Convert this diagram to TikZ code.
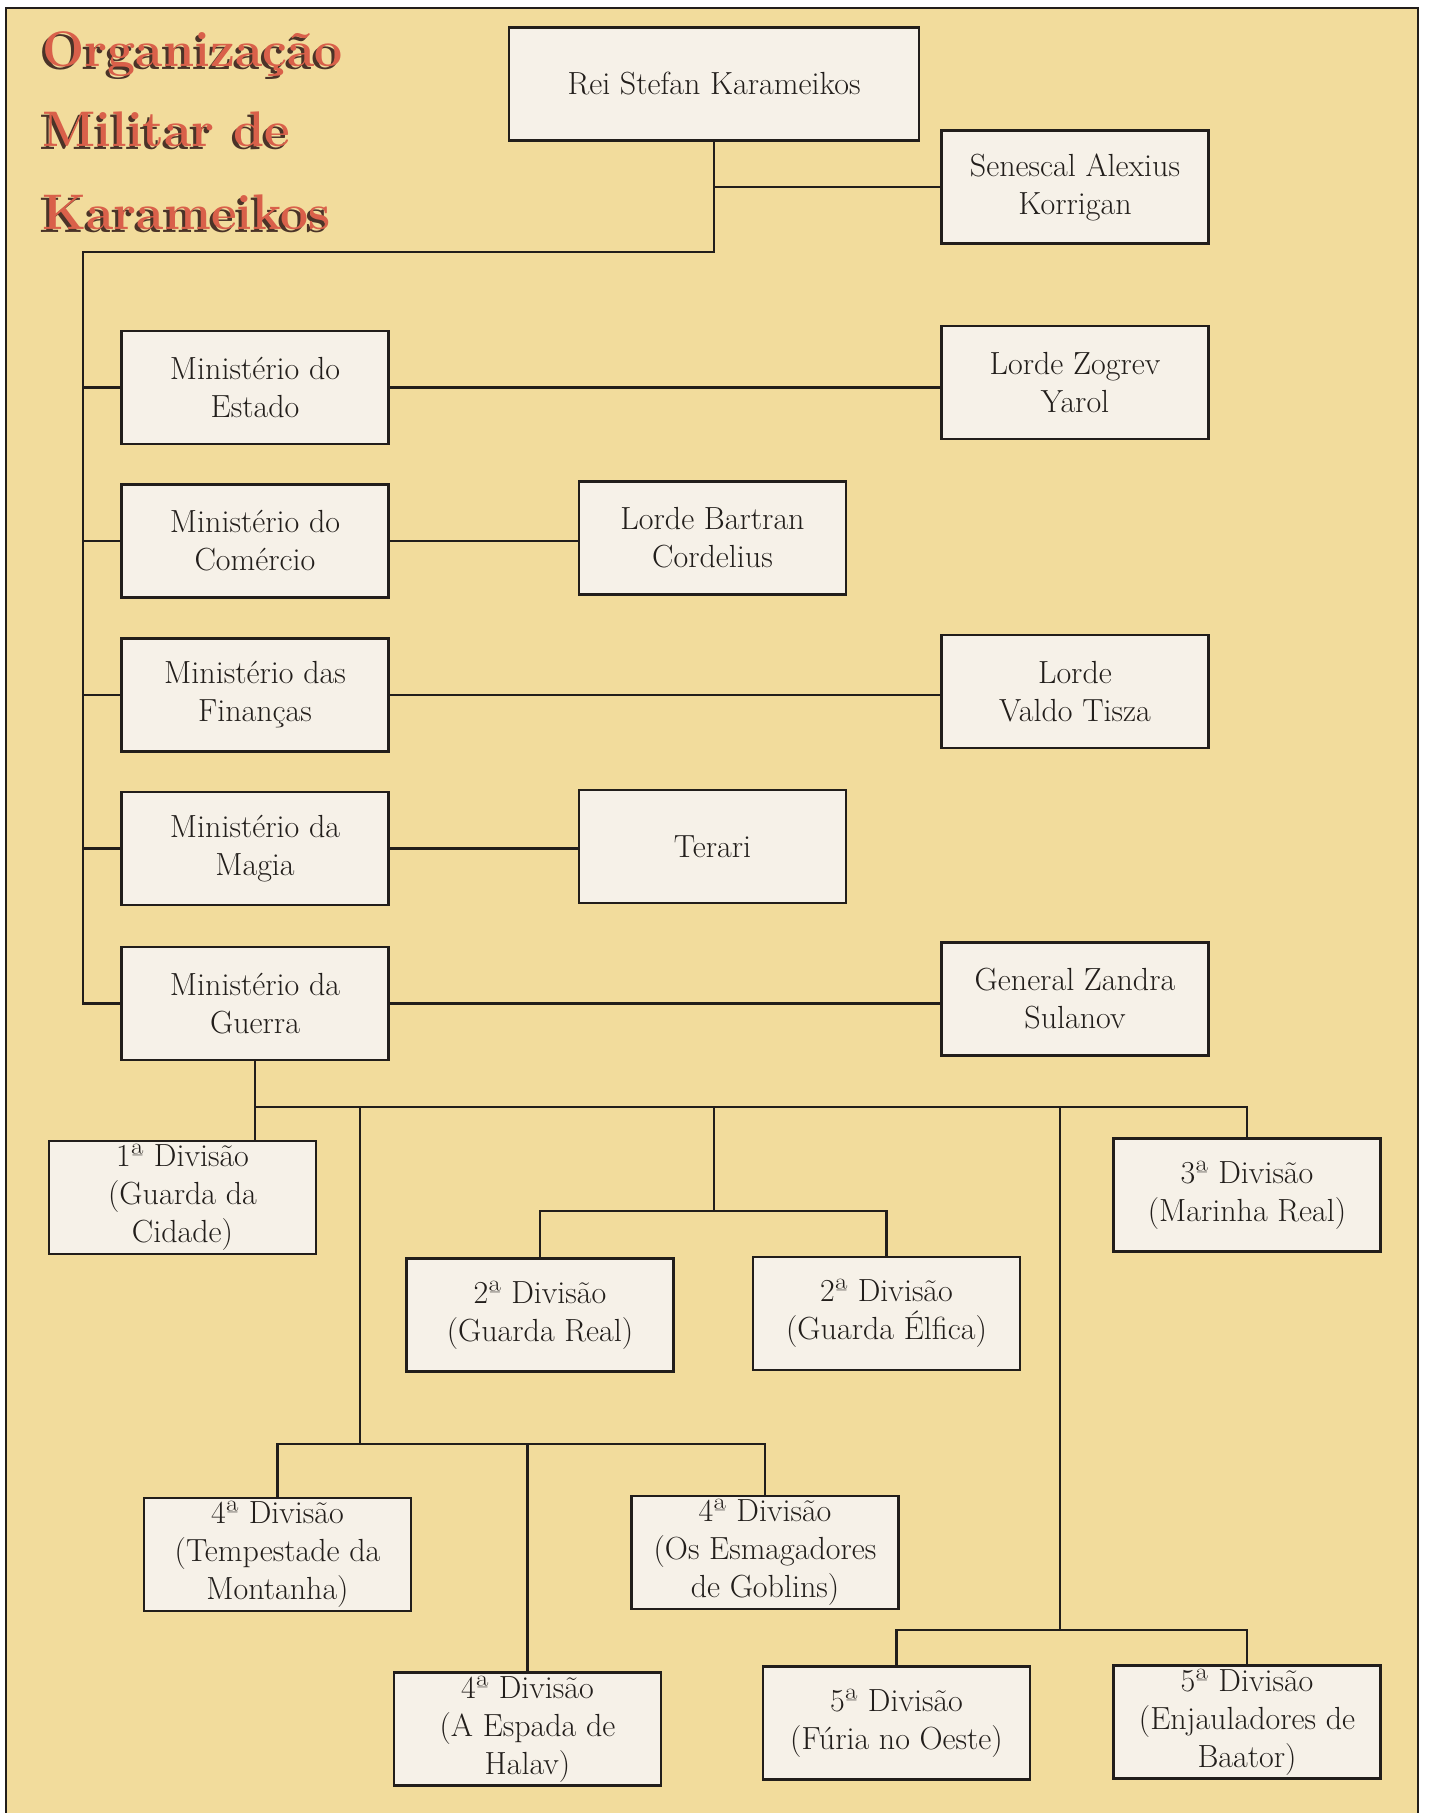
\documentclass[tikz,border=0pt]{standalone}
\usepackage{tikz}
\usetikzlibrary{positioning,calc}

\definecolor{parch}{HTML}{F2DC9C}
\definecolor{boxfill}{HTML}{F6F1E8}
\definecolor{ink}{HTML}{221E1B}
\definecolor{titlered}{HTML}{D9604A}
\definecolor{titleshade}{HTML}{4A3328}

\begin{document}
\begin{tikzpicture}[
	x=0.5pt, y=-0.5pt,
	box/.style={draw=ink, fill=boxfill, line width=1.4pt, minimum width=133.5pt, minimum height=56.5pt,
		align=center, inner sep=0pt, text=ink, font=\fontsize{16}{19}\selectfont},
	link/.style={draw=ink, line width=1.2pt},
	titletext/.style={anchor=base west, inner sep=0pt, font=\fontsize{25}{28}\selectfont\bfseries}]
	\useasboundingbox (0,0) rectangle (1428,1813);
	\fill[parch] (6,8) rectangle (1418,1813);
	\draw[ink, line width=1pt] (6,1813) -- (6,8) -- (1418,8) -- (1418,1813);

	% title with shadow
	\foreach \t/\b [count=\i] in {Organização/67, Militar de/147, Karameikos/230}{
		\node[titletext, text=titleshade] (shade\i) at (39,\b+3) {\t};
		\node[titletext, text=titlered] (title\i) at (42,\b) {\t};
	}

	% king and senescal
	\node[box, minimum width=205pt] (rei) at (714,84) {Rei Stefan Karameikos};
	\node[box] (sen) at (1075,187) {Senescal Alexius\\Korrigan};

	% ministries
	\node[box] (estado) at (255,387.5) {Ministério do\\Estado};
	\node[box] (comercio) at (255,541) {Ministério do\\Comércio};
	\node[box] (financas) at (255,695) {Ministério das\\Finanças};
	\node[box] (magia) at (255,848.5) {Ministério da\\Magia};
	\node[box] (guerra) at (255,1003.5) {Ministério da\\Guerra};

	\node[box] (zogrev) at (1075,382.5) {Lorde Zogrev\\Yarol};
	\node[box] (bartran) at (712.5,538) {Lorde Bartran\\Cordelius};
	\node[box] (valdo) at (1075,691.5) {Lorde\\Valdo Tisza};
	\node[box] (terari) at (712.5,846.5) {Terari};
	\node[box] (zandra) at (1075,999) {General Zandra\\Sulanov};

	% divisions
	\node[box] (div1) at (182.5,1197.5) {1ª Divisão\\(Guarda da\\Cidade)};
	\node[box] (div2a) at (540,1315) {2ª Divisão\\(Guarda Real)};
	\node[box] (div2b) at (886.5,1313.5) {2ª Divisão\\(Guarda Élfica)};
	\node[box] (div3) at (1247,1195) {3ª Divisão\\(Marinha Real)};
	\node[box] (div4a) at (277.5,1554.5) {4ª Divisão\\(Tempestade da\\Montanha)};
	\node[box] (div4b) at (765,1552.5) {4ª Divisão\\(Os Esmagadores\\de Goblins)};
	\node[box] (div4c) at (527.5,1729) {4ª Divisão\\(A Espada de\\Halav)};
	\node[box] (div5a) at (896.5,1723) {5ª Divisão\\(Fúria no Oeste)};
	\node[box] (div5b) at (1247,1722) {5ª Divisão\\(Enjauladores de\\Baator)};

	% junction points
	\coordinate (spine) at (83,252);
	\coordinate (bus) at (255,1107);
	\coordinate (drop1) at (360,1107);
	\coordinate (drop2) at (714,1107);
	\coordinate (drop3) at (1060,1107);
	\coordinate (bus2) at (714,1211);
	\coordinate (bus4) at (360,1444);
	\coordinate (bus5) at (1060,1630);

	% top links
	\draw[link] (rei.south) -- (rei.south |- spine) -- (spine) |- (guerra.west);
	\draw[link] (rei.south |- sen.west) -- (sen.west);
	\foreach \m in {estado, comercio, financas, magia}
		\draw[link] (spine |- \m.west) -- (\m.west);
	\draw[link] (estado.east) -- (estado.east -| zogrev.west);
	\draw[link] (comercio.east) -- (comercio.east -| bartran.west);
	\draw[link] (financas.east) -- (financas.east -| valdo.west);
	\draw[link] (magia.east) -- (magia.east -| terari.west);
	\draw[link] (guerra.east) -- (guerra.east -| zandra.west);

	% war ministry tree
	\draw[link] (guerra.south) -- (guerra.south |- div1.north);
	\draw[link] (bus) -| (div3.north);
	\draw[link] (drop2) -- (bus2);
	\draw[link] (div2a.north) |- (bus2) -| (div2b.north);
	\draw[link] (drop1) -- (bus4);
	\draw[link] (div4a.north) |- (bus4) -| (div4b.north);
	\draw[link] (div4c.north) -- (div4c.north |- bus4);
	\draw[link] (drop3) -- (bus5);
	\draw[link] (div5a.north) |- (bus5) -| (div5b.north);
\end{tikzpicture}
\end{document}
